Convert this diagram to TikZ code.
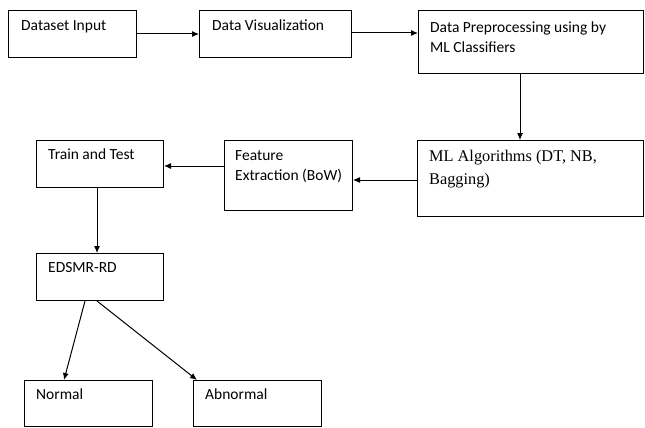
\documentclass[tikz,border=0pt]{standalone}
\usepackage{fontspec}
\setmainfont{Carlito}
\newfontfamily\serifface{Liberation Serif}
\usetikzlibrary{arrows.meta,calc}

\tikzset{
  box/.style={draw=black, line width=1pt, rectangle, anchor=north west, inner sep=0pt},
  txt/.style={anchor=north west, inner sep=0pt, align=left,
              font=\fontsize{15.5}{20}\selectfont},
  sertxt/.style={anchor=north west, inner sep=0pt, align=left,
              font=\serifface\fontsize{16.3}{23}\selectfont},
  link/.style={draw=black, line width=1pt, -{Latex[length=7pt,width=6pt]}},
}

\begin{document}
\begin{tikzpicture}[x=1pt,y=-1pt]
  \useasboundingbox (0,0) rectangle (645,428);

  % top row
  \node[box, minimum width=128, minimum height=47] (di) at (8,10) {};
  \node[txt] at ($(di.north west)+(13,10)$) {Dataset Input};

  \node[box, minimum width=152, minimum height=47] (dv) at (199,10) {};
  \node[txt] at ($(dv.north west)+(13,10)$) {Data Visualization};

  \node[box, minimum width=225, minimum height=63] (dp) at (418,10) {};
  \node[txt] at ($(dp.north west)+(12,12)$) {Data Preprocessing using by\\ML Classifiers};

  % middle row
  \node[box, minimum width=226, minimum height=76] (ml) at (417,140) {};
  \node[sertxt] at ($(ml.north west)+(12,10)$) {ML Algorithms (DT, NB,\\Bagging)};

  \node[box, minimum width=128, minimum height=70] (fe) at (224,140) {};
  \node[txt] at ($(fe.north west)+(11,10)$) {Feature\\Extraction (BoW)};

  \node[box, minimum width=127, minimum height=47] (tt) at (36,140) {};
  \node[txt] at ($(tt.north west)+(12,9)$) {Train and Test};

  % lower rows
  \node[box, minimum width=127, minimum height=47] (ed) at (36,253) {};
  \node[txt] at ($(ed.north west)+(12,9)$) {EDSMR-RD};

  \node[box, minimum width=128, minimum height=46] (no) at (24,380) {};
  \node[txt] at ($(no.north west)+(12,9)$) {Normal};

  \node[box, minimum width=128, minimum height=46] (ab) at (193,380) {};
  \node[txt] at ($(ab.north west)+(12,9)$) {Abnormal};

  % connectors
  \draw[link] (di.east) -- (dv.west);
  \draw[link] ($(dv.north east)+(0,23)$) coordinate (dvo) -- (dvo -| dp.west);
  \draw[link] ($(dp.south west)+(102,0)$) coordinate (dpo) -- (dpo |- ml.north);
  \draw[link] ($(ml.north west)+(0,40)$) coordinate (mlo) -- (mlo -| fe.east);
  \draw[link] ($(fe.north west)+(0,26)$) coordinate (feo) -- (feo -| tt.east);
  \draw[link] ($(tt.south west)+(61,0)$) coordinate (tto) -- (tto |- ed.north);
  \draw[link] ($(ed.south west)+(49,0)$) -- ($(no.north west)+(40,0)$);
  \draw[link] ($(ed.south west)+(61,0)$) -- ($(ab.north west)+(4,0)$);
\end{tikzpicture}
\end{document}
